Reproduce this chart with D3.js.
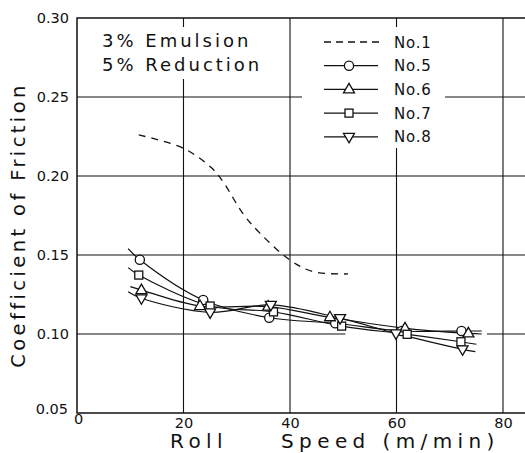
<!DOCTYPE html>
<html>
<head>
<meta charset="utf-8">
<script src="https://cdn.jsdelivr.net/npm/d3@7/dist/d3.min.js"></script>
<style>
  html, body { margin: 0; padding: 0; background: #fff; }
  svg { display: block; }
  text { font-family: "DejaVu Sans", sans-serif; fill: #111; }
</style>
</head>
<body>
<svg id="chart" width="525" height="453"></svg>
<script>
// ---- data ----
const speedTicks = [0, 20, 40, 60, 80];
const cofTicks = [0.05, 0.10, 0.15, 0.20, 0.25, 0.30];
const cofTickLabels = ["0.05", "0.10", "0.15", "0.20", "0.25", "0.30"];

const no1Speed = [11.6, 20.0, 25.3, 27.5, 31.2, 34.4, 40.0, 44.4, 50.9];
const no1Cof   = [0.226, 0.2175, 0.205, 0.196, 0.176, 0.1637, 0.1468, 0.1394, 0.138];

const no5Speed = [11.8, 23.7, 36.1, 48.5, 61.0, 72.2];
const no5Cof   = [0.147, 0.1215, 0.1103, 0.1068, 0.1019, 0.1019];
const no6Speed = [12.1, 23.1, 35.9, 47.5, 61.6, 73.5];
const no6Cof   = [0.1278, 0.1177, 0.1173, 0.1106, 0.1036, 0.1004];
const no7Speed = [11.6, 25.0, 36.9, 49.7, 62.0, 72.1];
const no7Cof   = [0.1373, 0.1177, 0.114, 0.105, 0.0998, 0.0951];
const no8Speed = [12.1, 25.0, 36.4, 49.4, 59.9, 72.4];
const no8Cof   = [0.1226, 0.1137, 0.1184, 0.110, 0.1004, 0.0903];

// fitted-curve end points (where the drawn lines start / stop)
const no5Ends = [[9.6, 0.154], [76.0, 0.1019]];
const no6Ends = [[10.0, 0.130], [76.0, 0.1000]];
const no7Ends = [[9.6, 0.142], [75.0, 0.0935]];
const no8Ends = [[9.6, 0.1268], [74.8, 0.0888]];

const seriesNames = ["No.1", "No.5", "No.6", "No.7", "No.8"];
const seriesMarkers = ["none", "circle", "up", "square", "down"];

// ---- layout ----
const svg = d3.select("#chart");
const x = d3.scaleLinear().domain([0, 80]).range([77, 503]);
const y = d3.scaleLinear().domain([0.05, 0.30]).range([413, 18]);
const xMax = 86; // frame runs past the picture edge

const g = svg.append("g");

// grid lines
const gridV = g.append("g").attr("stroke", "#111").attr("stroke-width", 1.1);
[20, 40, 60, 80].forEach(v => {
  gridV.append("line").attr("x1", x(v)).attr("x2", x(v)).attr("y1", y(0.30)).attr("y2", y(0.05));
});
[0.10, 0.15, 0.20, 0.25].forEach(v => {
  if (v === 0.10) {
    g.append("line").attr("x1", x(0)).attr("x2", x(50.4)).attr("y1", y(v)).attr("y2", y(v))
      .attr("stroke", "#111").attr("stroke-width", 1.1);
    g.append("line").attr("x1", x(77)).attr("x2", x(xMax)).attr("y1", y(v)).attr("y2", y(v))
      .attr("stroke", "#111").attr("stroke-width", 1.1);
  } else {
    g.append("line").attr("x1", x(0)).attr("x2", x(xMax)).attr("y1", y(v)).attr("y2", y(v))
      .attr("stroke", "#111").attr("stroke-width", 1.1);
  }
});

// white backgrounds for annotation and legend
g.append("rect").attr("x", 95).attr("y", 27).attr("width", 178).attr("height", 52).attr("fill", "#fff");
g.append("rect").attr("x", 302).attr("y", 27).attr("width", 143).attr("height", 121).attr("fill", "#fff");

// frame
g.append("path")
  .attr("d", `M${x(xMax)},${y(0.30)} H${x(0)} V${y(0.05)} H${x(xMax)}`)
  .attr("fill", "none").attr("stroke", "#111").attr("stroke-width", 1.5);

// tick labels
const xAxis = d3.axisBottom(x).tickValues(speedTicks).tickSize(0).tickFormat(d3.format("d"));
const xa = g.append("g").attr("transform", `translate(0,${y(0.05)})`).call(xAxis);
xa.select(".domain").remove();
xa.selectAll("text").attr("font-size", 14.5).attr("dy", null).attr("y", 14.5)
  .style("font-family", "'DejaVu Sans', sans-serif").attr("fill", "#111");
xa.selectAll(".tick").filter(d => d === 0).select("text").attr("y", 11).attr("x", 1);

const yAxis = d3.axisLeft(y).tickValues(cofTicks).tickSize(0).tickFormat((d, i) => cofTickLabels[i]);
const ya = g.append("g").attr("transform", `translate(${x(0)},0)`).call(yAxis);
ya.select(".domain").remove();
ya.selectAll("text").attr("font-size", 14.5).attr("x", -8)
  .style("font-family", "'DejaVu Sans', sans-serif").attr("fill", "#111");
ya.selectAll(".tick").filter(d => d === 0.05).select("text").attr("dy", "0.05em").attr("x", -9);

// axis titles
svg.append("text").attr("x", 170).attr("y", 448).attr("font-size", 20)
  .attr("letter-spacing", 5.4).text("Roll");
svg.append("text").attr("x", 281).attr("y", 448).attr("font-size", 20)
  .attr("letter-spacing", 5.4).text("Speed (m/min)");
svg.append("text").attr("transform", "translate(25,225) rotate(-90)")
  .attr("text-anchor", "middle").attr("font-size", 19.5).attr("letter-spacing", 3.4)
  .text("Coefficient of Friction");

// annotation
svg.append("text").attr("x", 102).attr("y", 47).attr("font-size", 18)
  .attr("letter-spacing", 3).text("3% Emulsion");
svg.append("text").attr("x", 102).attr("y", 71).attr("font-size", 18)
  .attr("letter-spacing", 3).text("5% Reduction");

// ---- data curves ----
const line = d3.line().x(d => x(d[0])).y(d => y(d[1])).curve(d3.curveCatmullRom.alpha(0.5));

const no1Pts = no1Speed.map((s, i) => [s, no1Cof[i]]);
g.append("path").attr("d", line(no1Pts)).attr("fill", "none")
  .attr("stroke", "#111").attr("stroke-width", 1.3).attr("stroke-dasharray", "7,6");

const markerSeries = [
  { sp: no5Speed, cf: no5Cof, ends: no5Ends, m: "circle" },
  { sp: no6Speed, cf: no6Cof, ends: no6Ends, m: "up" },
  { sp: no7Speed, cf: no7Cof, ends: no7Ends, m: "square" },
  { sp: no8Speed, cf: no8Cof, ends: no8Ends, m: "down" }
];

function drawMarker(sel, type, cx, cy) {
  if (type === "circle") {
    sel.append("circle").attr("cx", cx).attr("cy", cy).attr("r", 4.6)
      .attr("fill", "#fff").attr("stroke", "#111").attr("stroke-width", 1.3);
  } else if (type === "square") {
    sel.append("rect").attr("x", cx - 4).attr("y", cy - 4).attr("width", 8).attr("height", 8)
      .attr("fill", "#fff").attr("stroke", "#111").attr("stroke-width", 1.3);
  } else if (type === "up") {
    sel.append("path").attr("d", `M${cx},${cy - 6} L${cx + 5.5},${cy + 3.5} L${cx - 5.5},${cy + 3.5} Z`)
      .attr("fill", "#fff").attr("stroke", "#111").attr("stroke-width", 1.3);
  } else if (type === "down") {
    sel.append("path").attr("d", `M${cx},${cy + 6} L${cx + 5.5},${cy - 3.5} L${cx - 5.5},${cy - 3.5} Z`)
      .attr("fill", "#fff").attr("stroke", "#111").attr("stroke-width", 1.3);
  }
}

markerSeries.forEach(s => {
  const pts = [s.ends[0]].concat(s.sp.map((v, i) => [v, s.cf[i]])).concat([s.ends[1]]);
  g.append("path").attr("d", line(pts)).attr("fill", "none")
    .attr("stroke", "#111").attr("stroke-width", 1.2);
});
markerSeries.forEach(s => {
  s.sp.forEach((v, i) => drawMarker(g, s.m, x(v), y(s.cf[i])));
});

// ---- legend ----
const leg = svg.append("g");
const legY0 = 42, legDy = 23.7;
seriesNames.forEach((name, i) => {
  const ly = legY0 + i * legDy;
  if (i === 0) {
    leg.append("line").attr("x1", 324).attr("x2", 382).attr("y1", ly).attr("y2", ly)
      .attr("stroke", "#111").attr("stroke-width", 1.3).attr("stroke-dasharray", "7,5");
  } else {
    leg.append("line").attr("x1", 324).attr("x2", 378).attr("y1", ly).attr("y2", ly)
      .attr("stroke", "#111").attr("stroke-width", 1.2);
    drawMarker(leg, seriesMarkers[i], 349, ly);
  }
  leg.append("text").attr("x", 394).attr("y", ly + 5.5).attr("font-size", 15)
    .attr("letter-spacing", 0.8).text(name);
});
</script>
</body>
</html>
